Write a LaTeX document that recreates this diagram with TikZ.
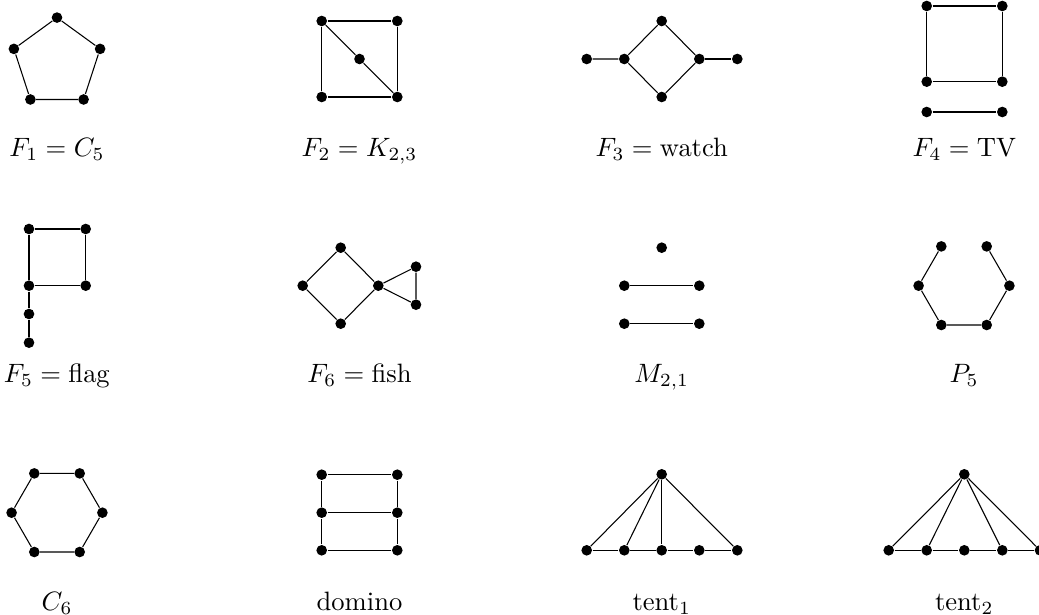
\documentclass[tikz,border=0pt]{standalone}
\begin{document}
\begin{tikzpicture}[x=0.3764pt,y=-0.3764pt,
  v/.style={circle,fill=black,draw=none,inner sep=0pt,minimum size=4pt},
  lbl/.style={anchor=base,inner sep=0pt},
  every path/.style={line width=0.4pt}]
\useasboundingbox (0,0) rectangle (1039,615);
% F1 = C5
\node[v] (a1) at (57,17.6) {};
\node[v] (a2) at (100.1,48.9) {};
\node[v] (a3) at (83.6,99.5) {};
\node[v] (a4) at (30.4,99.5) {};
\node[v] (a5) at (13.9,48.9) {};
\draw (a1)--(a2)--(a3)--(a4)--(a5)--(a1);
\node[lbl] (l1) at (57,157) {$F_1 = C_5$};
% F2 = K23
\node[v] (b1) at (321.7,21) {};
\node[v] (b2) at (397.3,21) {};
\node[v] (b3) at (397.3,97) {};
\node[v] (b4) at (321.7,97) {};
\node[v] (b5) at (359.5,59) {};
\draw (b1)--(b2)--(b3)--(b4)--(b1);
\draw (b1)--(b5)--(b3);
\node[lbl] (l2) at (359.5,157) {$F_2 = K_{2,3}$};
% F3 = watch
\node[v] (c1) at (586.7,59) {};
\node[v] (c2) at (624.3,59) {};
\node[v] (c3) at (661.7,21) {};
\node[v] (c4) at (699.3,59) {};
\node[v] (c5) at (661.7,97) {};
\node[v] (c6) at (737.3,59) {};
\draw (c1)--(c2)--(c3)--(c4)--(c5)--(c2);
\draw (c4)--(c6);
\node[lbl] (l3) at (661.7,157) {$F_3 = \mathrm{watch}$};
% F4 = TV
\node[v] (d1) at (926.7,6) {};
\node[v] (d2) at (1002.3,6) {};
\node[v] (d3) at (1002.3,81.7) {};
\node[v] (d4) at (926.7,81.7) {};
\node[v] (d5) at (926.7,112) {};
\node[v] (d6) at (1002.3,112) {};
\draw (d1)--(d2)--(d3)--(d4)--(d1);
\draw (d5)--(d6);
\node[lbl] (l4) at (964.5,157) {$F_4 = \mathrm{TV}$};
% F5 = flag
\node[v] (e1) at (29,229) {};
\node[v] (e2) at (85.7,229) {};
\node[v] (e3) at (85.7,285.7) {};
\node[v] (e4) at (29,285.7) {};
\node[v] (e5) at (29,314) {};
\node[v] (e6) at (29,342.7) {};
\draw (e1)--(e2)--(e3)--(e4)--(e1);
\draw (e4)--(e5)--(e6);
\node[lbl] (l5) at (57,383) {$F_5 = \mathrm{flag}$};
% F6 = fish
\node[v] (f1) at (340.7,247.7) {};
\node[v] (f2) at (302.7,285.7) {};
\node[v] (f3) at (340.7,323.7) {};
\node[v] (f4) at (378.3,285.7) {};
\node[v] (f5) at (416,266.7) {};
\node[v] (f6) at (416,304.7) {};
\draw (f1)--(f2)--(f3)--(f4)--(f1);
\draw (f4)--(f5)--(f6)--(f4);
\node[lbl] (l6) at (359.5,383) {$F_6 = \mathrm{fish}$};
% M21
\node[v] (g1) at (661.7,247.7) {};
\node[v] (g2) at (624.3,285.7) {};
\node[v] (g3) at (699.3,285.7) {};
\node[v] (g4) at (624.3,323.7) {};
\node[v] (g5) at (699.3,323.7) {};
\draw (g2)--(g3);
\draw (g4)--(g5);
\node[lbl] (l7) at (661.7,383) {$M_{2,1}$};
% P5
\node[v] (h1) at (941.3,246.4) {};
\node[v] (h2) at (918.6,285.7) {};
\node[v] (h3) at (941.3,325) {};
\node[v] (h4) at (986.7,325) {};
\node[v] (h5) at (1009.4,285.7) {};
\node[v] (h6) at (986.7,246.4) {};
\draw (h1)--(h2)--(h3)--(h4)--(h5)--(h6);
\node[lbl] (l8) at (964,383) {$P_5$};
% C6
\node[v] (i1) at (34.3,473.4) {};
\node[v] (i2) at (79.7,473.4) {};
\node[v] (i3) at (102.4,512.7) {};
\node[v] (i4) at (79.7,552) {};
\node[v] (i5) at (34.3,552) {};
\node[v] (i6) at (11.6,512.7) {};
\draw (i1)--(i2)--(i3)--(i4)--(i5)--(i6)--(i1);
\node[lbl] (l9) at (57,611) {$C_6$};
% domino
\node[v] (j1) at (321.7,474.7) {};
\node[v] (j2) at (397.3,474.7) {};
\node[v] (j3) at (321.7,512.7) {};
\node[v] (j4) at (397.3,512.7) {};
\node[v] (j5) at (321.7,550.3) {};
\node[v] (j6) at (397.3,550.3) {};
\draw (j1)--(j2)--(j4)--(j6)--(j5)--(j3)--(j1);
\draw (j3)--(j4);
\node[lbl] (l10) at (359.5,611) {domino};
% tent1
\node[v] (k0) at (661.7,474.3) {};
\node[v] (k1) at (586.7,550.3) {};
\node[v] (k2) at (624.3,550.3) {};
\node[v] (k3) at (661.7,550.3) {};
\node[v] (k4) at (699.3,550.3) {};
\node[v] (k5) at (737.3,550.3) {};
\draw (k1)--(k2)--(k3)--(k4)--(k5);
\draw (k0)--(k1); \draw (k0)--(k2); \draw (k0)--(k3); \draw (k0)--(k5);
\node[lbl] (l11) at (661.7,611) {$\mathrm{tent}_1$};
% tent2
\node[v] (m0) at (964.3,474.3) {};
\node[v] (m1) at (888.7,550.3) {};
\node[v] (m2) at (926.7,550.3) {};
\node[v] (m3) at (964.3,550.3) {};
\node[v] (m4) at (1002.3,550.3) {};
\node[v] (m5) at (1040,550.3) {};
\draw (m1)--(m2)--(m3)--(m4)--(m5);
\draw (m0)--(m1); \draw (m0)--(m2); \draw (m0)--(m4); \draw (m0)--(m5);
\node[lbl] (l12) at (964.3,611) {$\mathrm{tent}_2$};
\end{tikzpicture}
\end{document}
